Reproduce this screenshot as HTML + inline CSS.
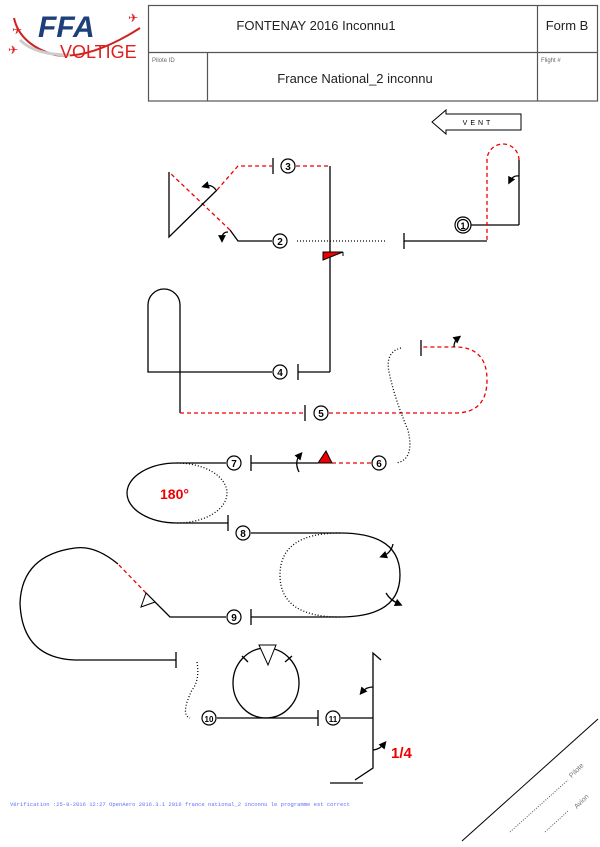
<!DOCTYPE html>
<html><head><meta charset="utf-8"><style>
html,body{margin:0;padding:0;background:#fff;}
svg{display:block;font-family:"Liberation Sans","DejaVu Sans",sans-serif;}
</style></head><body>
<svg width="600" height="847" viewBox="0 0 600 847" xmlns="http://www.w3.org/2000/svg">
<defs>
<marker id="ah" markerWidth="6" markerHeight="6" refX="3" refY="3" orient="auto"><path d="M0,0 L6,3 L0,6 z" fill="#000"/></marker>
</defs>
<!-- logo -->
<g>
<path d="M14,18 Q20,45 55,55 Q90,60 140,28" fill="none" stroke="#c22" stroke-width="2"/>
<path d="M20,40 Q35,55 70,55" fill="none" stroke="#ccc" stroke-width="3"/>
<text x="38" y="37" font-size="30" font-weight="bold" font-style="italic" fill="#1d3f7a">FFA</text>
<text x="60" y="58" font-size="18" fill="#e02020">VOLTIGE</text>
<text x="8" y="54" font-size="12" fill="#e02020">✈</text>
<text x="12" y="34" font-size="12" fill="#e02020">✈</text>
<text x="128" y="22" font-size="12" fill="#e02020">✈</text>
</g>
<!-- header -->
<g stroke="#555" stroke-width="1.2" fill="none">
<rect x="148.5" y="5.5" width="449" height="95.5"/>
<line x1="148" y1="52.5" x2="598" y2="52.5"/>
<line x1="537.5" y1="5" x2="537.5" y2="101"/>
<line x1="207.5" y1="53" x2="207.5" y2="101"/>
</g>
<text x="316" y="30" font-size="13" text-anchor="middle" fill="#222">FONTENAY 2016 Inconnu1</text>
<text x="567" y="30" font-size="13" text-anchor="middle" fill="#222">Form B</text>
<text x="355" y="83" font-size="13" text-anchor="middle" fill="#222">France National_2 inconnu</text>
<text x="152" y="62" font-size="6" fill="#666">Pilote ID</text>
<text x="541" y="62" font-size="6" fill="#666">Flight #</text>
<!-- vent -->
<path d="M432,122 L446,110 L446,114 L521,114 L521,130 L446,130 L446,134 Z" fill="#fff" stroke="#000"/>
<text x="478" y="125" font-size="7" text-anchor="middle" letter-spacing="3">VENT</text>

<g fill="none" stroke="#000" stroke-width="1.3">
<!-- fig1 -->
<line x1="470" y1="225" x2="519" y2="225"/><line x1="519" y1="225" x2="519" y2="160"/>
<line x1="487" y1="241" x2="404" y2="241"/><line x1="404" y1="233" x2="404" y2="249"/>
<path d="M519,160 A16,16 0 0 0 487,160 L487,241" stroke="#e00" stroke-dasharray="4,3"/>
<path d="M519,176 Q513,175 510,181" marker-end="url(#ah)"/>
<line x1="297" y1="241" x2="385" y2="241" stroke-dasharray="1,2"/>
<!-- fig2/3 -->
<path d="M272,241 L238,241 L230,230"/>
<path d="M230,230 L169,172" stroke="#e00" stroke-dasharray="4,3"/>
<path d="M169,172 L169,237 L217,190"/>
<path d="M217,190 L238,166 L272,166" stroke="#e00" stroke-dasharray="4,3"/>
<line x1="273" y1="158" x2="273" y2="174"/>
<path d="M296,166 L330,166" stroke="#e00" stroke-dasharray="4,3"/>
<line x1="330" y1="166" x2="330" y2="372"/>
<path d="M216,190 Q212,184 205,186" marker-end="url(#ah)"/>
<path d="M228,232 Q222,232 222,239" marker-end="url(#ah)"/>
<!-- fig4 -->
<path d="M330,372 L298,372"/><line x1="298" y1="364" x2="298" y2="380"/>
<path d="M272,372 L148,372 L148,305 A16,16 0 0 1 180,305 L180,413"/>
<path d="M180,413 L304,413" stroke="#e00" stroke-dasharray="4,3"/>
<line x1="305" y1="405" x2="305" y2="421"/>
<!-- fig5 -->
<path d="M329,413 L455,413 Q487,413 487,380 Q487,347 455,347 L421,347" stroke="#e00" stroke-dasharray="4,3"/>
<line x1="421" y1="340" x2="421" y2="356"/>
<path d="M454,347 Q454,341 458,338" marker-end="url(#ah)"/>
<path d="M401,348 Q385,352 389,372 Q395,400 408,430 Q415,460 396,463" stroke-dasharray="1,2"/>
<!-- fig6/7 -->
<path d="M371,463 L332,463" stroke="#e00" stroke-dasharray="4,3"/>
<path d="M318,463 L251,463"/><line x1="251" y1="455" x2="251" y2="471"/>
<path d="M299,472 Q294,462 300,455" marker-end="url(#ah)"/>
<path d="M226,463 L177,463 A50,30 0 0 0 177,523 L228,523"/>
<path d="M177,463 A50,30 0 0 1 177,523" stroke-dasharray="1,2"/>
<line x1="228" y1="515" x2="228" y2="531"/>
<!-- fig8 -->
<path d="M251,533 L340,533 Q400,533 400,575 Q400,617 340,617 L251,617"/>
<path d="M340,533 Q280,533 280,575 Q280,617 340,617" stroke-dasharray="1,2"/>
<line x1="251" y1="609" x2="251" y2="625"/>
<path d="M393,544 Q391,553 383,556" marker-end="url(#ah)"/>
<path d="M386,593 Q390,600 399,604" marker-end="url(#ah)"/>
<!-- fig9 -->
<path d="M226,617 L170,617 L146,593"/>
<path d="M146,593 L118,564" stroke="#e00" stroke-dasharray="4,3"/>
<path d="M118,564 Q95,545 75,548 Q22,555 20,603 Q22,658 75,660 L176,660"/>
<line x1="176" y1="652" x2="176" y2="668"/>
<!-- fig10 -->
<path d="M197,662 Q200,680 192,690 Q180,715 190,718" stroke-dasharray="1,2"/>
<line x1="217" y1="718" x2="318" y2="718"/><line x1="318" y1="710" x2="318" y2="726"/>
<ellipse cx="266" cy="683" rx="33" ry="35"/>
<line x1="242" y1="656" x2="248" y2="662"/><line x1="285" y1="662" x2="292" y2="656"/>
<!-- fig11 -->
<line x1="341" y1="718" x2="373" y2="718"/>
<path d="M381,660 L373,653 L373,768 L355,780"/>
<line x1="330" y1="783" x2="363" y2="783"/>
<path d="M373,687 Q366,687 362,692" marker-end="url(#ah)"/>
<path d="M373,750 Q380,749 384,744" marker-end="url(#ah)"/>
</g>
<!-- triangles / flags -->
<path d="M323,252 L343,252 L323,260 Z" fill="#e00" stroke="#000"/>
<path d="M343,252 L343,256" stroke="#000"/>
<path d="M318,463 L326,451 L332,463 Z" fill="#e00" stroke="#000"/>
<path d="M146,593 L141,607 L155,602 Z" fill="#fff" stroke="#000"/>
<path d="M259,645 L276,645 L268,665 Z" fill="#fff" stroke="#000"/>
<!-- circle labels -->
<g font-size="10" font-weight="bold" text-anchor="middle" fill="#000">
<g fill="#fff" stroke="#000" stroke-width="1.2">
<circle cx="463" cy="225" r="8"/><circle cx="463" cy="225" r="5.5" fill="none"/>
<circle cx="280" cy="241" r="7"/><circle cx="288" cy="166" r="7"/>
<circle cx="280" cy="372" r="7"/><circle cx="321" cy="413" r="7"/>
<circle cx="379" cy="463" r="7"/><circle cx="234" cy="463" r="7"/>
<circle cx="243" cy="533" r="7"/><circle cx="234" cy="617" r="7"/>
<circle cx="209" cy="718" r="7"/><circle cx="333" cy="718" r="7"/>
</g>
<text x="463" y="229" font-size="9">1</text>
<text x="280" y="245">2</text><text x="288" y="170">3</text>
<text x="280" y="376">4</text><text x="321" y="417">5</text>
<text x="379" y="467">6</text><text x="234" y="467">7</text>
<text x="243" y="537">8</text><text x="234" y="621">9</text>
<text x="209" y="722" font-size="8">10</text><text x="333" y="722" font-size="8">11</text>
</g>
<text x="160" y="499" font-size="14" font-weight="bold" fill="#e00">180°</text>
<text x="391" y="758" font-size="15" font-weight="bold" fill="#e00">1/4</text>
<text x="10" y="806" font-size="5.5" fill="#6070ff" font-family="Liberation Mono,monospace">Vérification :25-8-2016 12:27 OpenAero 2016.3.1 2016 france national_2 inconnu le programme est correct</text>
<!-- pilot/avion -->
<line x1="462" y1="841" x2="598" y2="719" stroke="#000"/>
<line x1="510" y1="832" x2="568" y2="780" stroke="#555" stroke-dasharray="1,1.5"/>
<line x1="545" y1="832" x2="568" y2="811" stroke="#555" stroke-dasharray="1,1.5"/>
<text x="578" y="772" font-size="7" fill="#777" text-anchor="middle" transform="rotate(-45 578 772)">Pilote</text>
<text x="583" y="803" font-size="7" fill="#777" text-anchor="middle" transform="rotate(-45 583 803)">Avion</text>
</svg>
</body></html>
